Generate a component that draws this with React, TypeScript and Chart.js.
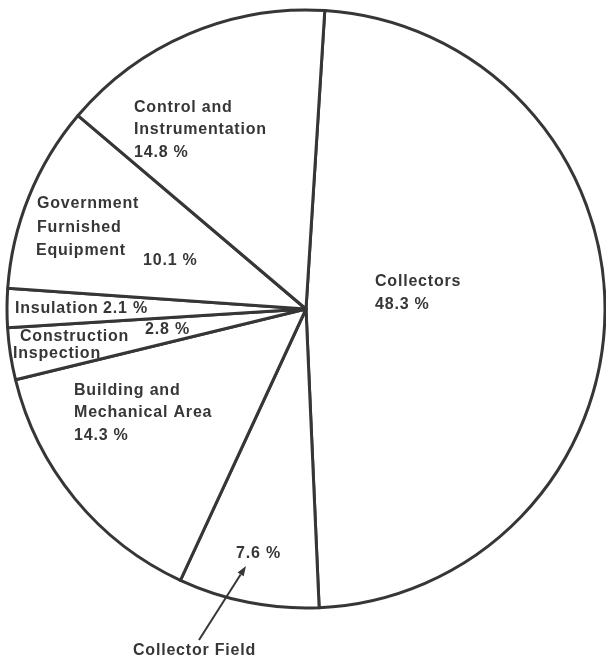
import { useEffect, useRef } from "react";
import { Chart, registerables } from "chart.js";

Chart.register(...registerables);

// Cost shares, clockwise from 12 o'clock
const categoryLines: string[][] = [
  ["Collectors"],
  ["Collector Field"],
  ["Building and", "Mechanical Area"],
  ["Construction", "Inspection"],
  ["Insulation"],
  ["Government", "Furnished", "Equipment"],
  ["Control and", "Instrumentation"],
];
const categories = categoryLines.map((l) => l.join(" "));
const shares = [48.3, 7.6, 14.3, 2.8, 2.1, 10.1, 14.8];

const pctText = (i: number) => `${shares[i].toFixed(1)} %`;

// Where each slice's caption sits: name lines (left x, baseline) and the percentage
type Place = { names: [number, number][]; pct: [number, number] };
const captionPlaces: Place[] = [
  { names: [[375, 286]], pct: [375, 309] },
  { names: [[133, 655]], pct: [236, 558] },
  { names: [[74, 395], [74, 417]], pct: [74, 440] },
  { names: [[20, 341], [13, 358]], pct: [145, 334] },
  { names: [[15, 313]], pct: [103, 313] },
  { names: [[37, 208], [37, 232], [36, 255]], pct: [143, 265] },
  { names: [[134, 112], [134, 134]], pct: [134, 157] },
];

// Pointer from the "Collector Field" caption into its slice
const pointerFrom: [number, number] = [199, 640];
const pointerTo: [number, number] = [246, 566];

const INK = "#363636";
const FONT = 'bold 16px "Liberation Sans", Arial, Helvetica, sans-serif';

const captionPlugin = {
  id: "captions",
  afterDraw(chart: Chart) {
    const ctx = chart.ctx;
    ctx.save();
    ctx.fillStyle = INK;
    ctx.font = FONT;
    (ctx as any).letterSpacing = "0.8px";
    ctx.textAlign = "left";
    ctx.textBaseline = "alphabetic";
    captionPlaces.forEach((p, i) => {
      categoryLines[i].forEach((line, j) => {
        const [x, y] = p.names[j];
        ctx.fillText(line, x, y);
      });
      ctx.fillText(pctText(i), p.pct[0], p.pct[1]);
    });

    // arrow
    const [x0, y0] = pointerFrom;
    const [x1, y1] = pointerTo;
    const ang = Math.atan2(y1 - y0, x1 - x0);
    const head = 10;
    const half = 3.6;
    const bx = x1 - head * Math.cos(ang);
    const by = y1 - head * Math.sin(ang);
    ctx.strokeStyle = INK;
    ctx.lineWidth = 2;
    ctx.beginPath();
    ctx.moveTo(x0, y0);
    ctx.lineTo(bx, by);
    ctx.stroke();
    ctx.beginPath();
    ctx.moveTo(x1, y1);
    ctx.lineTo(bx - half * Math.sin(ang), by + half * Math.cos(ang));
    ctx.lineTo(bx + half * Math.sin(ang), by - half * Math.cos(ang));
    ctx.closePath();
    ctx.fill();
    ctx.restore();
  },
};

export default function App() {
  const canvasRef = useRef<HTMLCanvasElement | null>(null);

  useEffect(() => {
    const canvas = canvasRef.current;
    if (!canvas) return;
    const chart = new Chart(canvas, {
      type: "pie",
      data: {
        labels: categories,
        datasets: [
          {
            data: shares,
            backgroundColor: "#ffffff",
            borderColor: INK,
            borderWidth: 3,
            borderJoinStyle: "round",
          },
        ],
      },
      options: {
        responsive: false,
        animation: false,
        events: [],
        rotation: 3.6,
        radius: 299,
        layout: { padding: { left: 6, right: 0, top: 9, bottom: 52 } },
        plugins: {
          legend: { display: false },
          tooltip: { enabled: false },
        },
      },
      plugins: [captionPlugin],
    });
    return () => chart.destroy();
  }, []);

  return (
    <div style={{ position: "absolute", left: 0, top: 0, width: 606, height: 661, background: "#fff" }}>
      <canvas ref={canvasRef} width={606} height={661} style={{ display: "block", width: 606, height: 661 }} />
    </div>
  );
}
